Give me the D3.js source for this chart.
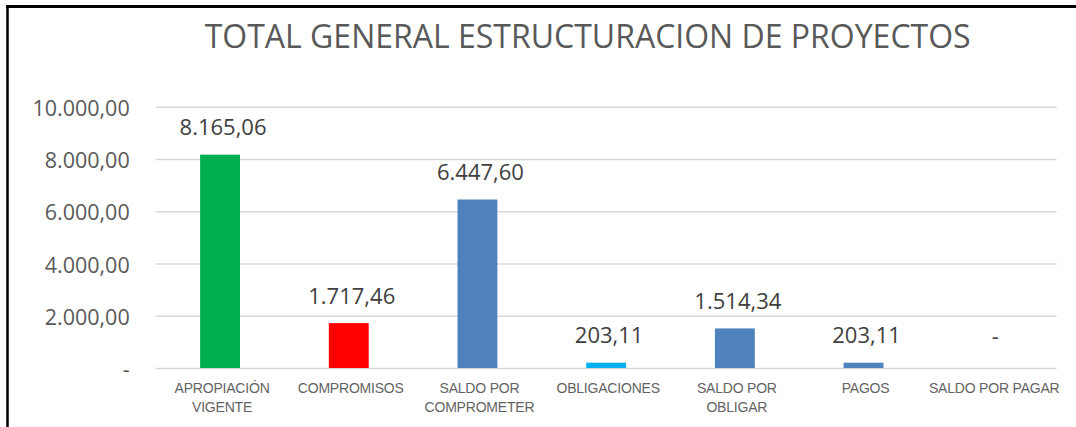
<!DOCTYPE html>
<html>
<head>
<meta charset="utf-8">
<script src="https://cdn.jsdelivr.net/npm/d3@7"></script>
<style>
  html, body { margin: 0; padding: 0; background: #fff; }
  svg { display: block; }
</style>
</head>
<body>
<div id="chart-area"></div>
<script>
(() => {

  const categories = ['APROPIACIÓN VIGENTE', 'COMPROMISOS', 'SALDO POR COMPROMETER', 'OBLIGACIONES', 'SALDO POR OBLIGAR', 'PAGOS', 'SALDO POR PAGAR'];
  const categoryLines = [['APROPIACIÓN', 'VIGENTE'], ['COMPROMISOS'], ['SALDO POR', 'COMPROMETER'], ['OBLIGACIONES'], ['SALDO POR', 'OBLIGAR'], ['PAGOS'], ['SALDO POR PAGAR']];
  const values = [8165.06, 1717.46, 6447.60, 203.11, 1514.34, 203.11, 0];
  const barColors = ['#00B050', '#FF0000', '#4F81BD', '#00B0F0', '#4F81BD', '#4F81BD', '#4F81BD'];
  const tickValues = [0, 2000, 4000, 6000, 8000, 10000];
  const title = 'TOTAL GENERAL ESTRUCTURACION DE PROYECTOS';

  const widthSvg = 1076;
  const heightSvg = 427;
  const plot = { left: 155.7, right: 1056.6, top: 106.7, bottom: 368 };

  const locale = d3.formatLocale({ decimal: ',', thousands: '.', grouping: [3], currency: ['', ''] });
  const fmt = v => v === 0 ? '-' : locale.format(',.2f')(v);

  const scaleX = d3.scaleBand()
    .domain(categories)
    .range([plot.left, plot.right])
    .padding(0);

  const scaleY = d3.scaleLinear()
    .domain([0, 10000])
    .range([plot.bottom, plot.top]);

  const barWidth = scaleX.bandwidth() * 0.31;

  const svg = d3.select('#chart-area')
    .append('svg')
      .attr('width', widthSvg)
      .attr('height', heightSvg);

  svg.append('rect')
    .attr('width', widthSvg)
    .attr('height', heightSvg)
    .attr('fill', '#fff');

  // frame (only top and left edges visible)
  svg.append('line')
    .attr('x1', 6).attr('x2', widthSvg)
    .attr('y1', 6.5).attr('y2', 6.5)
    .attr('stroke', '#000').attr('stroke-width', 3);
  svg.append('line')
    .attr('x1', 7.5).attr('x2', 7.5)
    .attr('y1', 5).attr('y2', heightSvg)
    .attr('stroke', '#000').attr('stroke-width', 2.5);

  svg.append('text')
    .attr('x', (plot.left + plot.right) / 2 - 18.5)
    .attr('y', 48)
    .attr('text-anchor', 'middle')
    .attr('font-family', '"Open Sans", sans-serif')
    .attr('font-size', 32)
    .attr('fill', '#595959')
    .text(title);

  // gridlines + y axis
  const axisY = d3.axisLeft(scaleY)
    .tickValues(tickValues)
    .tickSize(-(plot.right - plot.left))
    .tickPadding(26)
    .tickFormat(fmt);

  const groupAxisY = svg.append('g')
    .attr('transform', `translate(${plot.left}, 0)`)
    .call(axisY);

  groupAxisY.select('.domain').remove();
  groupAxisY.selectAll('.tick line')
    .attr('stroke', '#d9d9d9')
    .attr('stroke-width', 1.6);
  groupAxisY.selectAll('.tick text')
    .attr('font-family', '"Open Sans", sans-serif')
    .attr('font-size', 21.5)
    .attr('fill', '#595959')
    .attr('dy', '0.4em');

  // bars
  svg.append('g')
    .selectAll('rect')
    .data(values)
    .join('rect')
      .attr('x', (d, i) => scaleX(categories[i]) + (scaleX.bandwidth() - barWidth) / 2)
      .attr('y', d => scaleY(d))
      .attr('width', barWidth)
      .attr('height', d => scaleY(0) - scaleY(d))
      .attr('fill', (d, i) => barColors[i]);

  // value labels
  svg.append('g')
    .selectAll('text')
    .data(values)
    .join('text')
      .attr('x', (d, i) => scaleX(categories[i]) + scaleX.bandwidth() / 2 + 3)
      .attr('y', d => d === 0 ? 344 : scaleY(d) - 19.5)
      .attr('text-anchor', 'middle')
      .attr('font-family', '"Open Sans", sans-serif')
      .attr('font-size', 22)
      .attr('fill', '#404040')
      .text(d => fmt(d));

  // category labels
  const catGroups = svg.append('g')
    .selectAll('text')
    .data(categoryLines)
    .join('text')
      .attr('x', (d, i) => scaleX(categories[i]) + scaleX.bandwidth() / 2 + 2)
      .attr('y', 392.7)
      .attr('text-anchor', 'middle')
      .attr('font-family', '"Liberation Sans Narrow", "Arial Narrow", "Liberation Sans", sans-serif')
      .attr('font-size', 14)
      .attr('letter-spacing', -0.2)
      .attr('fill', '#636363');

  catGroups.selectAll('tspan')
    .data(d => d)
    .join('tspan')
      .attr('x', function () { return d3.select(this.parentNode).attr('x'); })
      .attr('dy', (d, i) => i === 0 ? 0 : 19.6)
      .text(d => d);

})();
</script>
</body>
</html>
